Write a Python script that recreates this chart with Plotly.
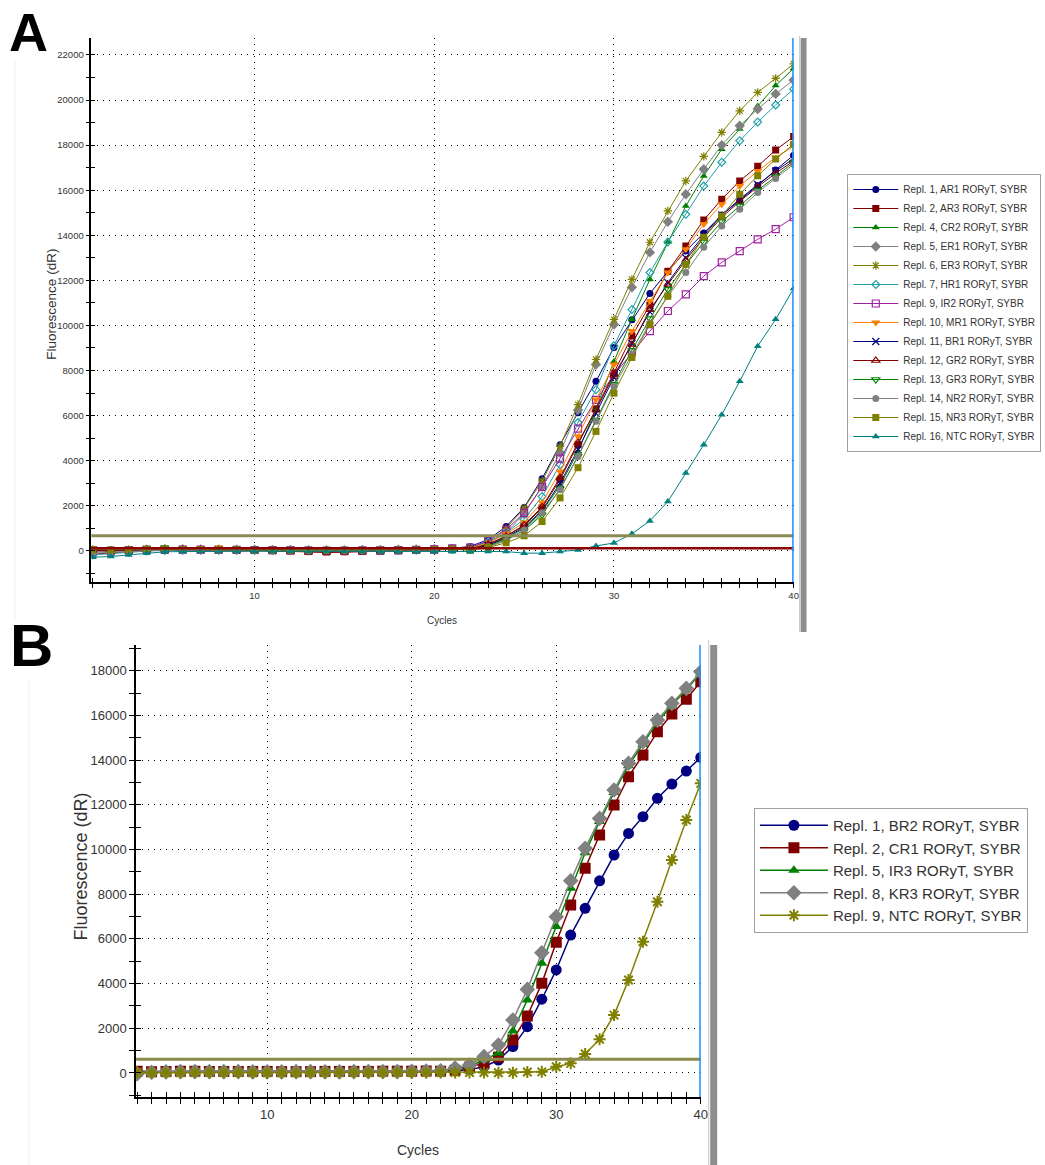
import plotly.graph_objects as go

cycles = list(range(1, 41))

# ---------------- Panel A data (Fluorescence dR per cycle) ----------------
a_labels = [
    "Repl. 1, AR1 RORyT, SYBR", "Repl. 2, AR3 RORyT, SYBR", "Repl. 4, CR2 RORyT, SYBR",
    "Repl. 5, ER1 RORyT, SYBR", "Repl. 6, ER3 RORyT, SYBR", "Repl. 7, HR1 RORyT, SYBR",
    "Repl. 9, IR2 RORyT, SYBR", "Repl. 10, MR1 RORyT, SYBR", "Repl. 11, BR1 RORyT, SYBR",
    "Repl. 12, GR2 RORyT, SYBR", "Repl. 13, GR3 RORyT, SYBR", "Repl. 14, NR2 RORyT, SYBR",
    "Repl. 15, NR3 RORyT, SYBR", "Repl. 16, NTC RORyT, SYBR",
]

a_AR1 = [60, 30, 50, 80, 60, 50, 70, 60, 50, 40, 40, 30, 20, 20, 30, 30, 40, 50, 60, 80, 110,
         200, 500, 1080, 1930, 3200, 4710, 6130, 7520, 9020, 10250, 11420, 12400, 13300, 14100,
         14900, 15550, 16200, 16900, 17550]
a_AR3 = [-150, -80, -20, 30, 40, 50, 60, 50, 40, 30, 10, -10, -30, -50, -40, -30, -20, 0, 20, 40, 70,
         100, 300, 650, 1110, 1910, 3160, 4710, 6300, 7900, 9530, 10900, 12400, 13520, 14680,
         15600, 16410, 17060, 17780, 18380]
a_CR2 = [100, 60, 80, 120, 150, 90, 80, 70, 70, 60, 60, 50, 50, 40, 50, 60, 60, 70, 70, 80, 90,
         80, 250, 550, 1000, 1750, 2900, 4400, 6300, 8400, 10270, 12040, 13700, 15300, 16630,
         17820, 18710, 19730, 20640, 21400]
a_ER1 = [-50, -20, 10, 40, 60, 70, 60, 60, 50, 50, 40, 40, 30, 30, 30, 40, 40, 50, 60, 70, 90,
         120, 350, 800, 1650, 2850, 4350, 6250, 8270, 10040, 11690, 13240, 14600, 15820, 16930,
         18000, 18860, 19600, 20270, 20890]
a_ER3 = [50, 30, 40, 60, 60, 50, 40, 40, 30, 30, 30, 20, 20, 20, 20, 30, 30, 40, 50, 70, 100,
         150, 400, 1000, 1900, 3100, 4640, 6490, 8490, 10270, 12040, 13690, 15080, 16410, 17500,
         18560, 19520, 20340, 20960, 21600]
a_HR1 = [-180, -120, -60, -10, 20, 30, 40, 40, 40, 30, 30, 20, 20, 10, 10, 20, 20, 30, 40, 60, 90,
         130, 400, 800, 1400, 2410, 3820, 5690, 7150, 9100, 10710, 12350, 13700, 14930, 16180,
         17240, 18190, 19020, 19780, 20490]
a_IR2 = [20, 0, 30, 50, 60, 60, 60, 50, 50, 40, 30, 20, 10, 0, 0, 10, 20, 30, 50, 70, 110,
         150, 450, 930, 1690, 2840, 4090, 5420, 6700, 7800, 8800, 9750, 10640, 11380, 12190,
         12800, 13300, 13820, 14270, 14800]
a_MR1 = [80, 50, 70, 100, 90, 80, 120, 150, 80, 60, 50, 40, 30, 20, 30, 40, 50, 60, 70, 80, 100,
         120, 350, 750, 1260, 2150, 3520, 5080, 6710, 8270, 9750, 11080, 12350, 13380, 14500,
         15380, 16190, 16850, 17450, 17950]
a_BR1 = [40, 20, 40, 60, 60, 60, 50, 50, 40, 40, 30, 30, 20, 20, 20, 30, 30, 40, 50, 60, 80,
         80, 250, 600, 1050, 1800, 3000, 4500, 6100, 7700, 9200, 10600, 11900, 13000, 14000,
         14900, 15600, 16250, 16850, 17400]
a_GR2 = [0, 20, 40, 60, 60, 50, 50, 40, 30, 20, 0, -30, -60, -70, -60, -40, -20, 0, 20, 40, 70,
         100, 280, 650, 1150, 1950, 3250, 4800, 6250, 7800, 9160, 10700, 11820, 12900, 13900,
         14800, 15500, 16150, 16750, 17300]
a_GR3 = [80, 60, 70, 100, 130, 80, 70, 60, 60, 50, 50, 40, 40, 30, 30, 40, 50, 50, 60, 70, 80,
         60, 200, 500, 900, 1600, 2750, 4200, 5800, 7400, 8900, 10300, 11600, 12700, 13700,
         14600, 15300, 16000, 16600, 17250]
a_NR2 = [-100, -60, -10, 30, 40, 40, 40, 40, 30, 30, 20, 20, 10, 10, 10, 20, 20, 30, 40, 50, 70,
         50, 180, 450, 930, 1690, 2710, 4190, 5750, 7300, 8700, 10100, 11300, 12350, 13470,
         14410, 15150, 15900, 16520, 17150]
a_NR3 = [60, 40, 50, 70, 70, 60, 60, 50, 50, 40, 40, 30, 30, 30, 30, 30, 40, 40, 50, 60, 80,
         30, 150, 360, 670, 1300, 2350, 3690, 5300, 7000, 8580, 10040, 11300, 12710, 13910,
         14860, 15820, 16640, 17380, 18040]
a_NTC = [-280, -250, -180, -100, -40, -30, -20, -20, -20, -20, -20, -20, -30, -30, -30, -30, -40,
         -40, -40, -40, -40, -40, -30, -30, -100, -100, -30, 40, 220, 350, 760, 1330, 2190, 3450,
         4710, 6040, 7520, 9080, 10270, 11640]

a_series = [a_AR1, a_AR3, a_CR2, a_ER1, a_ER3, a_HR1, a_IR2, a_MR1, a_BR1, a_GR2, a_GR3,
            a_NR2, a_NR3, a_NTC]
a_thresholds = [670, 120]

# ---------------- Panel B data ----------------
b_labels = [
    "Repl. 1, BR2 RORyT, SYBR", "Repl. 2, CR1 RORyT, SYBR", "Repl. 5, IR3 RORyT, SYBR",
    "Repl. 8, KR3 RORyT, SYBR", "Repl. 9, NTC RORyT, SYBR",
]
b_BR2 = [60, 40, 50, 60, 60, 60, 50, 50, 50, 60, 60, 60, 50, 50, 60, 60, 60, 60, 70, 70, 80,
         80, 100, 150, 280, 580, 1180, 2070, 3300, 4610, 6170, 7370, 8600, 9750, 10720,
         11470, 12290, 12930, 13510, 14120]
b_CR1 = [80, 60, 70, 80, 80, 70, 70, 70, 70, 70, 60, 60, 60, 70, 70, 70, 70, 80, 80, 80, 90,
         80, 120, 260, 440, 710, 1480, 2550, 4010, 5850, 7520, 9160, 10650, 11990, 13260,
         14230, 15270, 16060, 16720, 17510]
b_IR3 = [40, 30, 40, 50, 50, 50, 50, 40, 40, 40, 50, 50, 50, 40, 40, 50, 50, 50, 60, 60, 70,
         90, 180, 300, 580, 890, 1880, 3270, 4910, 6550, 8270, 9850, 11250, 12550, 13750,
         14700, 15700, 16450, 17150, 17900]
b_KR3 = [-40, 30, 50, 60, 60, 60, 60, 60, 50, 50, 50, 60, 60, 50, 50, 60, 60, 60, 60, 70, 90,
         100, 220, 360, 730, 1250, 2370, 3740, 5380, 6990, 8600, 10050, 11390, 12660, 13860,
         14820, 15790, 16540, 17210, 17950]
b_NTC = [20, 10, 10, 10, 20, 20, 20, 20, 10, 10, 10, 10, 20, 20, 20, 20, 20, 20, 20, 20, 20,
         20, 20, 20, 20, 10, 15, 40, 50, 280, 430, 850, 1510, 2590, 4160, 5870, 7660, 9530,
         11320, 12960]
b_series = [b_BR2, b_CR1, b_IR3, b_KR3, b_NTC]
b_threshold = 610

# ---------------- styles ----------------
a_colors = ["#000080", "#800000", "#008000", "#808080", "#808000", "#20A0A8", "#A020A0",
            "#FF8000", "#000080", "#800000", "#008000", "#808080", "#808000", "#008080"]
a_symbols = ["circle", "square", "triangle-up", "diamond", "asterisk-open", "diamond-open",
             "square-open", "triangle-down", "x-thin-open", "triangle-up-open",
             "triangle-down-open", "circle", "square", "triangle-up"]
a_sizes = [7, 7, 7, 8, 7, 6, 7, 8, 7, 7, 7, 7, 7, 7]

b_colors = ["#000080", "#800000", "#008000", "#808080", "#808000"]
b_symbols = ["circle", "square", "triangle-up", "diamond", "asterisk-open"]
b_sizes = [11, 11, 10, 12, 10]

W, H = 1045, 1165
TXT = "#333333"
FONT = "Liberation Sans, Arial, sans-serif"
GRID_DASH = "1px,5px"

def px_x(p):
    return p / W

def px_y(p):
    return (H - p) / H

fig = go.Figure()

for vals, name, col, sym, sz in zip(a_series, a_labels, a_colors, a_symbols, a_sizes):
    is_open = sym.endswith("open")
    fig.add_trace(go.Scatter(
        x=cycles, y=vals, name=name, mode="lines+markers", xaxis="x", yaxis="y",
        legend="legend",
        line=dict(color=col, width=1),
        marker=dict(symbol=sym, size=sz, color=col,
                    line=dict(color=col, width=1.2 if is_open else 0)),
    ))

for vals, name, col, sym, sz in zip(b_series, b_labels, b_colors, b_symbols, b_sizes):
    is_open = sym.endswith("open")
    fig.add_trace(go.Scatter(
        x=cycles, y=vals, name=name, mode="lines+markers", xaxis="x2", yaxis="y2",
        legend="legend2",
        line=dict(color=col, width=1.5),
        marker=dict(symbol=sym, size=sz, color=col,
                    line=dict(color=col, width=2 if is_open else 0)),
    ))

# empty traces for overlay axes (tick marks crossing the axis lines)
fig.add_trace(go.Scatter(x=[], y=[], xaxis="x3", yaxis="y3", showlegend=False))
fig.add_trace(go.Scatter(x=[], y=[], xaxis="x4", yaxis="y4", showlegend=False))

a_xdom = [px_x(92), px_x(799)]
a_ydom = [px_y(582), px_y(38)]
b_xdom = [px_x(137), px_x(705.5)]
b_ydom = [px_y(1097), px_y(645)]
a_xr = [0.92, 40]
a_yr = [-1380, 22750]
b_xr = [0.93, 40]
b_yr = [-1075, 19150]
tick_labels_x = [10, 20, 30, 40]

def xax(dom, rng, anchor, fs, tl, overlay=None):
    d = dict(domain=dom, range=rng, anchor=anchor, tickvals=tick_labels_x,
             ticks="outside", ticklen=tl, tickwidth=1.2, tickcolor="black",
             minor=dict(dtick=1, tick0=0, ticks="outside", ticklen=tl, tickwidth=1.2,
                        tickcolor="black", showgrid=False),
             showgrid=True, gridcolor="black", griddash=GRID_DASH, gridwidth=1,
             showline=True, linecolor="black", linewidth=1.5, zeroline=False,
             tickfont=dict(size=fs, color=TXT, family=FONT), fixedrange=True)
    if overlay:
        d.update(overlaying=overlay, ticks="inside", showticklabels=False, showgrid=False,
                 showline=False)
        d["minor"]["ticks"] = "inside"
    return d

def yax(dom, rng, anchor, fs, tl, overlay=None):
    d = dict(domain=dom, range=rng, anchor=anchor, dtick=2000, tick0=0, tickformat="d",
             ticks="outside", ticklen=tl, tickwidth=1.2, tickcolor="black",
             minor=dict(dtick=1000, tick0=0, ticks="outside", ticklen=tl, tickwidth=1.2,
                        tickcolor="black", showgrid=False),
             showgrid=True, gridcolor="black", griddash=GRID_DASH, gridwidth=1,
             showline=True, linecolor="black", linewidth=1.5, zeroline=False,
             tickfont=dict(size=fs, color=TXT, family=FONT), fixedrange=True)
    if overlay:
        d.update(overlaying=overlay, ticks="inside", showticklabels=False, showgrid=False,
                 showline=False)
        d["minor"]["ticks"] = "inside"
    return d

shapes = []
# threshold lines A
shapes.append(dict(type="line", xref="x domain", yref="y", x0=0, x1=1,
                   y0=a_thresholds[0], y1=a_thresholds[0],
                   line=dict(color="#8C8A55", width=3), layer="above"))
shapes.append(dict(type="line", xref="x domain", yref="y", x0=0, x1=1,
                   y0=a_thresholds[1], y1=a_thresholds[1],
                   line=dict(color="#8B0000", width=2.5), layer="above"))
# threshold line B
shapes.append(dict(type="line", xref="x2 domain", yref="y2", x0=0, x1=1,
                   y0=b_threshold, y1=b_threshold,
                   line=dict(color="#8C8A4A", width=3), layer="above"))
# end-of-run cursor line at last cycle
shapes.append(dict(type="line", xref="x", yref="y domain", x0=cycles[-1], x1=cycles[-1],
                   y0=0, y1=1, line=dict(color="#1E90FF", width=3)))
shapes.append(dict(type="line", xref="x2", yref="y2 domain", x0=cycles[-1], x1=cycles[-1],
                   y0=0, y1=1, line=dict(color="#1E90FF", width=3)))
# hatched scroll bars at right of each plot
shapes.append(dict(type="rect", xref="paper", yref="paper", x0=px_x(806), x1=px_x(812),
                   y0=px_y(632), y1=px_y(38), fillcolor="#8e8e8e", line=dict(width=0)))
shapes.append(dict(type="line", xref="paper", yref="paper", x0=px_x(805), x1=px_x(805),
                   y0=px_y(632), y1=px_y(36), line=dict(color="#c8c8c8", width=1)))
shapes.append(dict(type="rect", xref="paper", yref="paper", x0=px_x(715), x1=px_x(722),
                   y0=px_y(1165), y1=px_y(645), fillcolor="#8e8e8e", line=dict(width=0)))
shapes.append(dict(type="line", xref="paper", yref="paper", x0=px_x(713.5), x1=px_x(713.5),
                   y0=px_y(1165), y1=px_y(640), line=dict(color="#c8c8c8", width=1)))
# faint panel borders
shapes.append(dict(type="line", xref="paper", yref="paper", x0=px_x(15), x1=px_x(15),
                   y0=px_y(620), y1=px_y(60), line=dict(color="#efefef", width=1)))
shapes.append(dict(type="line", xref="paper", yref="paper", x0=px_x(29), x1=px_x(29),
                   y0=px_y(1165), y1=px_y(680), line=dict(color="#efefef", width=1)))

annotations = [
    dict(text="<b>A</b>", x=px_x(7), y=px_y(32), xref="paper", yref="paper",
         xanchor="left", yanchor="middle", showarrow=False,
         font=dict(size=54, color="black", family=FONT)),
    dict(text="<b>B</b>", x=px_x(8), y=px_y(645), xref="paper", yref="paper",
         xanchor="left", yanchor="middle", showarrow=False,
         font=dict(size=60, color="black", family=FONT)),
    dict(text="Fluorescence (dR)", x=px_x(51), y=px_y(304), xref="paper", yref="paper",
         textangle=-90, showarrow=False, xanchor="center", yanchor="middle",
         font=dict(size=13.5, color=TXT, family=FONT)),
    dict(text="Cycles", x=px_x(445), y=px_y(620), xref="paper", yref="paper",
         showarrow=False, xanchor="center", yanchor="middle",
         font=dict(size=10, color=TXT, family=FONT)),
    dict(text="Fluorescence (dR)", x=px_x(82), y=px_y(866), xref="paper", yref="paper",
         textangle=-90, showarrow=False, xanchor="center", yanchor="middle",
         font=dict(size=18, color=TXT, family=FONT)),
    dict(text="Cycles", x=px_x(421), y=px_y(1150), xref="paper", yref="paper",
         showarrow=False, xanchor="center", yanchor="middle",
         font=dict(size=14, color=TXT, family=FONT)),
]

fig.update_layout(
    width=W, height=H, autosize=False,
    margin=dict(l=0, r=0, t=0, b=0),
    paper_bgcolor="white", plot_bgcolor="white",
    font=dict(family=FONT, color=TXT),
    xaxis=xax(a_xdom, a_xr, "y", 9.5, 4),
    yaxis=yax(a_ydom, a_yr, "x", 9.5, 4),
    xaxis3=xax(a_xdom, a_xr, "y", 9.5, 4, overlay="x"),
    yaxis3=yax(a_ydom, a_yr, "x", 9.5, 4, overlay="y"),
    xaxis2=xax(b_xdom, b_xr, "y2", 13, 5),
    yaxis2=yax(b_ydom, b_yr, "x2", 13, 5),
    xaxis4=xax(b_xdom, b_xr, "y2", 13, 5, overlay="x2"),
    yaxis4=yax(b_ydom, b_yr, "x2", 13, 5, overlay="y2"),
    legend=dict(x=px_x(853), y=px_y(174), xanchor="left", yanchor="top",
                bgcolor="white", bordercolor="#a0a0a0", borderwidth=1, itemwidth=45,
                font=dict(size=10, color=TXT, family=FONT), tracegroupgap=0),
    legend2=dict(x=px_x(759), y=px_y(808), xanchor="left", yanchor="top",
                 bgcolor="white", bordercolor="#a0a0a0", borderwidth=1, itemwidth=68,
                 font=dict(size=15, color=TXT, family=FONT), tracegroupgap=0),
    shapes=shapes,
    annotations=annotations,
    showlegend=True,
)

fig.write_html("out.html")
